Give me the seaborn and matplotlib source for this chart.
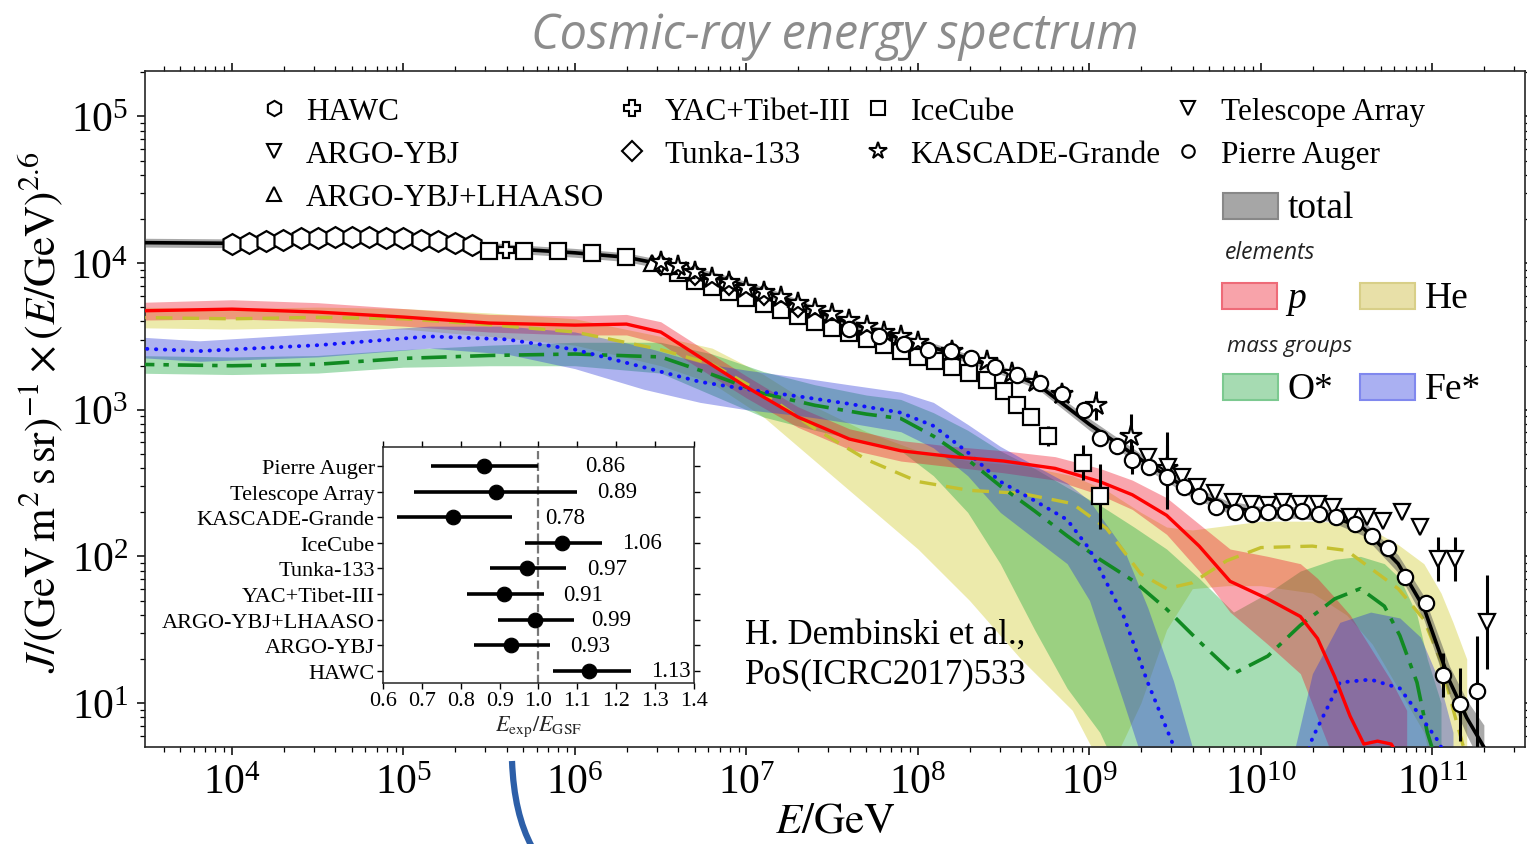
import numpy as np
import matplotlib
matplotlib.use("Agg")
import matplotlib.pyplot as plt
import seaborn as sns
from matplotlib.lines import Line2D
from matplotlib.patches import Rectangle, PathPatch
from matplotlib.path import Path
from matplotlib.ticker import FixedLocator, NullFormatter

# ---------------- data (log10 E/GeV, log10 flux) ----------------
# total (GSF) model
TOT_E = [3.4, 4.0, 4.4, 4.7, 5.0, 5.3, 5.6, 6.0, 6.3, 6.6, 6.9, 7.2, 7.5, 7.8, 8.1, 8.4, 8.7,
         9.0, 9.3, 9.6, 9.8, 10.0, 10.2, 10.4, 10.6, 10.8, 10.95, 11.1, 11.2, 11.3]
TOT_J = [4.14, 4.135, 4.16, 4.17, 4.17, 4.14, 4.10, 4.07, 4.04, 3.97, 3.88, 3.77, 3.63, 3.52, 3.42,
         3.31, 3.17, 2.90, 2.66, 2.44, 2.34, 2.30, 2.30, 2.28, 2.19, 1.95, 1.65, 1.15, 0.90, 0.70]
TOT_HI = [4.17, 4.165, 4.19, 4.20, 4.20, 4.17, 4.13, 4.10, 4.07, 4.00, 3.91, 3.80, 3.66, 3.55, 3.45,
          3.34, 3.20, 2.94, 2.70, 2.48, 2.38, 2.34, 2.34, 2.32, 2.24, 2.01, 1.73, 1.25, 1.02, 0.85]
TOT_LO = [4.11, 4.105, 4.13, 4.14, 4.14, 4.11, 4.07, 4.04, 4.01, 3.94, 3.85, 3.74, 3.60, 3.49, 3.39,
          3.28, 3.14, 2.86, 2.62, 2.40, 2.30, 2.26, 2.26, 2.24, 2.14, 1.89, 1.57, 1.05, 0.78, 0.55]

# proton
P_E = [3.4, 4.0, 4.5, 5.0, 5.5, 6.0, 6.3, 6.5, 6.7, 7.0, 7.3, 7.6, 7.9, 8.2, 8.5, 8.8, 9.06, 9.25,
       9.45, 9.64, 9.82, 10.04, 10.23, 10.33, 10.43, 10.52, 10.6, 10.68, 10.76, 10.85]
P_J = [3.673, 3.686, 3.666, 3.632, 3.591, 3.577, 3.584, 3.53, 3.38, 3.155, 2.95, 2.80, 2.72, 2.68,
       2.65, 2.60, 2.51, 2.42, 2.28, 2.07, 1.83, 1.71, 1.59, 1.44, 1.18, 0.91, 0.72, 0.74, 0.72, 0.55]
P_HI = [3.73, 3.75, 3.73, 3.69, 3.65, 3.64, 3.65, 3.60, 3.45, 3.23, 3.02, 2.87, 2.79, 2.75, 2.72,
        2.68, 2.60, 2.52, 2.40, 2.22, 2.05, 2.00, 1.95, 1.85, 1.72, 1.60, 1.45, 1.30, 1.15, 0.95]
P_LO = [3.61, 3.62, 3.60, 3.57, 3.53, 3.51, 3.51, 3.45, 3.30, 3.08, 2.88, 2.73, 2.65, 2.61, 2.57,
        2.52, 2.42, 2.32, 2.15, 1.90, 1.62, 1.40, 1.20, 0.90, 0.60, 0.40, 0.30, 0.30, 0.30, 0.30]

# helium
HE_E = [3.4, 4.0, 4.5, 5.0, 5.5, 6.0, 6.5, 6.8, 7.1, 7.4, 7.7, 8.0, 8.3, 8.6, 8.9, 9.1, 9.3, 9.45,
        9.6, 9.8, 10.0, 10.3, 10.5, 10.65, 10.8, 10.95, 11.05, 11.12, 11.2]
HE_J = [3.63, 3.62, 3.63, 3.62, 3.58, 3.53, 3.41, 3.31, 3.11, 2.87, 2.66, 2.51, 2.45, 2.43, 2.36,
        2.19, 1.88, 1.78, 1.82, 1.97, 2.06, 2.07, 2.04, 1.91, 1.78, 1.57, 1.28, 0.96, 0.62]
HE_HI = [3.70, 3.69, 3.70, 3.69, 3.66, 3.62, 3.50, 3.42, 3.24, 3.02, 2.85, 2.72, 2.65, 2.62, 2.55,
         2.45, 2.30, 2.20, 2.18, 2.21, 2.24, 2.24, 2.23, 2.18, 2.08, 1.95, 1.75, 1.55, 1.30]
HE_LO = [3.56, 3.55, 3.56, 3.55, 3.50, 3.44, 3.30, 3.18, 2.95, 2.65, 2.35, 2.05, 1.70, 1.30, 0.95,
         0.50, 1.00, 1.50, 1.78, 1.80, 1.80, 1.75, 1.60, 1.40, 1.10, 0.80, 0.30, 0.30, 0.30]

# O* mass group
O_E = [3.4, 4.0, 4.5, 5.0, 5.5, 6.0, 6.5, 6.8, 7.1, 7.4, 7.7, 7.9, 8.09, 8.29, 8.48, 8.68, 8.87,
       9.06, 9.26, 9.45, 9.64, 9.84, 10.04, 10.23, 10.43, 10.58, 10.72, 10.81, 10.91, 10.97, 11.05]
O_J = [3.31, 3.30, 3.31, 3.35, 3.37, 3.38, 3.36, 3.24, 3.11, 3.03, 2.97, 2.94, 2.82, 2.66, 2.48,
       2.31, 2.14, 1.98, 1.83, 1.64, 1.42, 1.20, 1.32, 1.53, 1.71, 1.78, 1.66, 1.46, 1.14, 0.80, 0.50]
O_HI = [3.37, 3.36, 3.37, 3.41, 3.44, 3.46, 3.46, 3.38, 3.26, 3.17, 3.10, 3.07, 2.98, 2.86, 2.72,
        2.60, 2.47, 2.35, 2.20, 2.05, 1.85, 1.62, 1.75, 1.90, 1.98, 2.00, 1.95, 1.85, 1.60, 1.30, 1.00]
O_LO = [3.25, 3.24, 3.25, 3.29, 3.30, 3.30, 3.25, 3.10, 2.95, 2.86, 2.78, 2.72, 2.55, 2.30, 1.95,
        1.50, 1.10, 0.80, 0.30, 0.30, 0.30, 0.30, 0.30, 0.30, 0.30, 0.30, 0.30, 0.30, 0.30, 0.30, 0.30]

# Fe* mass group (two lobes)
FE_E = [3.4, 3.81, 4.5, 5.15, 5.6, 6.0, 6.4, 6.73, 7.0, 7.31, 7.6, 7.9, 8.09, 8.29, 8.48, 8.68,
        8.87, 9.0, 9.2, 9.34, 9.49, 9.6]
FE_J = [3.42, 3.40, 3.44, 3.50, 3.48, 3.41, 3.29, 3.19, 3.14, 3.09, 3.04, 2.98, 2.89, 2.71, 2.51,
        2.38, 2.25, 2.05, 1.59, 1.14, 0.71, 0.40]
FE_HI = [3.50, 3.47, 3.52, 3.57, 3.57, 3.53, 3.43, 3.32, 3.27, 3.22, 3.17, 3.12, 3.05, 2.90, 2.75,
         2.62, 2.50, 2.38, 2.05, 1.65, 1.15, 0.70]
FE_LO = [3.36, 3.33, 3.36, 3.42, 3.38, 3.28, 3.14, 3.05, 3.00, 2.96, 2.91, 2.85, 2.74, 2.55, 2.30,
         2.12, 1.95, 1.70, 1.00, 0.50, 0.30, 0.30]
FE2_E = [10.2, 10.3, 10.46, 10.64, 10.81, 10.93, 11.04, 11.12]
FE2_J = [0.40, 0.76, 1.14, 1.16, 1.10, 0.91, 0.73, 0.50]
FE2_HI = [0.70, 1.20, 1.55, 1.62, 1.58, 1.45, 1.15, 0.80]
FE2_LO = [0.30, 0.30, 0.30, 0.30, 0.30, 0.30, 0.30, 0.30]

# experiments
HAWC_E = [4.0, 4.1, 4.2, 4.3, 4.4, 4.5, 4.6, 4.7, 4.8, 4.9, 5.0, 5.1, 5.2, 5.3, 5.4]
HAWC_J = [4.13, 4.14, 4.15, 4.16, 4.17, 4.17, 4.18, 4.18, 4.18, 4.17, 4.17, 4.16, 4.15, 4.14, 4.12]
HAWC_ERR = [0.07, 0.06, 0.05, 0.05, 0.03, 0.03, 0.03, 0.03, 0.03, 0.03, 0.03, 0.03, 0.03, 0.03, 0.03]

ARGO_E = [5.5, 5.7]
ARGO_J = [4.08, 4.08]
LHAASO_E = [6.45, 6.55, 6.65]
LHAASO_J = [4.00, 3.98, 3.95]
YAC_E = [5.6]
YAC_J = [4.09]
TUNKA_E = [6.5, 6.7, 6.9, 7.1, 7.3]
TUNKA_J = [3.99, 3.92, 3.85, 3.78, 3.70]

ICE_E = [5.5, 5.7, 5.9, 6.1, 6.3, 6.6, 6.7, 6.8, 6.9, 7.0, 7.1, 7.2, 7.3, 7.4, 7.5, 7.6, 7.7,
         7.8, 7.9, 8.0, 8.1, 8.2, 8.3, 8.4, 8.5, 8.58, 8.66, 8.76, 8.96, 9.06]
ICE_J = [4.08, 4.08, 4.08, 4.07, 4.04, 3.93, 3.88, 3.84, 3.80, 3.76, 3.72, 3.68, 3.64, 3.60, 3.56,
         3.52, 3.48, 3.44, 3.40, 3.36, 3.33, 3.29, 3.25, 3.20, 3.13, 3.03, 2.95, 2.82, 2.64, 2.41]
ICE_ERR = [0] * 25 + [0.04, 0.05, 0.07, 0.12, 0.22]

KG_E = [6.5, 6.6, 6.7, 6.8, 6.9, 7.0, 7.1, 7.2, 7.3, 7.4, 7.5, 7.6, 7.7, 7.8, 7.9, 8.0, 8.2, 8.4,
        8.55, 8.69, 8.84, 9.04, 9.24, 9.45]
KG_J = [4.01, 3.98, 3.94, 3.90, 3.87, 3.83, 3.80, 3.77, 3.73, 3.69, 3.65, 3.61, 3.57, 3.53, 3.50,
        3.46, 3.40, 3.33, 3.25, 3.19, 3.11, 3.03, 2.82, 2.60]
KG_ERR = [0] * 20 + [0.04, 0.10, 0.15, 0.25]

PA_E = [7.60, 7.77, 7.92, 8.06, 8.19, 8.31, 8.45, 8.58, 8.71, 8.84, 8.97, 9.06, 9.16, 9.25, 9.35,
        9.45, 9.55, 9.64, 9.74, 9.85, 9.95, 10.04, 10.14, 10.24, 10.34, 10.44, 10.55, 10.65, 10.74,
        10.84, 10.96, 11.06, 11.16, 11.26]
PA_J = [3.55, 3.50, 3.45, 3.41, 3.40, 3.35, 3.29, 3.24, 3.18, 3.11, 3.00, 2.81, 2.75, 2.66, 2.61,
        2.54, 2.47, 2.41, 2.34, 2.30, 2.29, 2.30, 2.30, 2.31, 2.29, 2.27, 2.22, 2.14, 2.06, 1.86,
        1.68, 1.19, 0.99, 1.08]
PA_ERR = [0] * 13 + [0.10, 0, 0.22] + [0] * 15 + [0.15, 0.25, 0.38]

TA_E = [9.34, 9.46, 9.54, 9.63, 9.73, 9.84, 9.94, 10.04, 10.13, 10.23, 10.33, 10.42, 10.52, 10.62,
        10.71, 10.82, 10.93, 11.03, 11.13, 11.32]
TA_J = [2.68, 2.61, 2.54, 2.47, 2.43, 2.37, 2.36, 2.35, 2.37, 2.36, 2.36, 2.34, 2.27, 2.27, 2.24,
        2.30, 2.20, 1.98, 1.98, 1.55]
TA_ERR = [0] * 17 + [0.15, 0.15, 0.32]

# inset: energy-scale factors
EXPS = ["Pierre Auger", "Telescope Array", "KASCADE-Grande", "IceCube", "Tunka-133",
        "YAC+Tibet-III", "ARGO-YBJ+LHAASO", "ARGO-YBJ", "HAWC"]
RATIO = [0.86, 0.89, 0.78, 1.06, 0.97, 0.91, 0.99, 0.93, 1.13]
RATIO_LO = [0.724, 0.681, 0.636, 0.966, 0.876, 0.816, 0.895, 0.833, 1.037]
RATIO_HI = [0.999, 1.099, 0.933, 1.163, 1.072, 1.013, 1.091, 1.029, 1.237]
LABEL_X = [1.12, 1.15, 1.017, 1.215, 1.125, 1.063, 1.136, 1.081, 1.29]

# ---------------- style ----------------
sns.set_theme(style="ticks")
plt.rcParams['font.family'] = ['Liberation Serif', 'DejaVu Serif']
plt.rcParams['mathtext.fontset'] = 'stix'
plt.rcParams['axes.linewidth'] = 1.2
plt.rcParams['text.color'] = 'black'
plt.rcParams['xtick.color'] = 'black'
plt.rcParams['ytick.color'] = 'black'
SANS = ['Open Sans', 'DejaVu Sans']


def p10(v):
    return 10 ** np.asarray(v, dtype=float)


def band(ax, E, lo, hi, color, alpha, z=1):
    ax.fill_between(p10(E), p10(lo), p10(hi), color=color, alpha=alpha, lw=0, zorder=z)


def points(ax, E, J, marker, ms, err=None):
    E, J = p10(E), np.asarray(J, dtype=float)
    if err is None:
        yerr = None
    else:
        e = np.asarray(err, dtype=float)
        yerr = [10 ** J - 10 ** (J - e), 10 ** (J + e) - 10 ** J]
    ax.errorbar(E, 10 ** J, yerr=yerr, fmt=marker, ms=ms, mfc='white', mec='black', mew=1.6,
                ecolor='black', elinewidth=2.2, capsize=0, ls='none', zorder=6)


fig = plt.figure(figsize=(15.27, 8.45), dpi=100)
ax = fig.add_axes([0.0950, 0.1148, 0.9037, 0.8000])
ax.set_xscale('log')
ax.set_yscale('log')
ax.set_xlim(10 ** 3.493, 10 ** 11.54)
ax.set_ylim(10 ** 0.70, 10 ** 5.31)

# element / mass-group bands
band(ax, HE_E, HE_LO, HE_HI, '#c8c000', 0.33)
band(ax, O_E, O_LO, O_HI, '#22aa44', 0.40)
band(ax, P_E, P_LO, P_HI, '#f01428', 0.38)
band(ax, FE_E, FE_LO, FE_HI, '#2a37d9', 0.38)
band(ax, FE2_E, FE2_LO, FE2_HI, '#2a37d9', 0.38)

sns.lineplot(x=p10(HE_E), y=p10(HE_J), ax=ax, color='#c4c030', lw=2.4, ls=(0, (5, 3)),
             sort=False, estimator=None, zorder=3)
sns.lineplot(x=p10(O_E), y=p10(O_J), ax=ax, color='#118a22', lw=2.6, ls=(0, (7, 2.5, 1.5, 2.5)),
             sort=False, estimator=None, zorder=3)
sns.lineplot(x=p10(FE_E), y=p10(FE_J), ax=ax, color='#1010ff', lw=2.8, ls=(0, (0.1, 2.2)),
             dash_capstyle='round', sort=False, estimator=None, zorder=3)
sns.lineplot(x=p10(FE2_E), y=p10(FE2_J), ax=ax, color='#1010ff', lw=2.8, ls=(0, (0.1, 2.2)),
             dash_capstyle='round', sort=False, estimator=None, zorder=3)
sns.lineplot(x=p10(P_E), y=p10(P_J), ax=ax, color='#ff0000', lw=2.4, sort=False,
             estimator=None, zorder=3)

# total
band(ax, TOT_E, TOT_LO, TOT_HI, '#555555', 0.5, z=4)
sns.lineplot(x=p10(TOT_E), y=p10(TOT_J), ax=ax, color='black', lw=2.6, sort=False,
             estimator=None, zorder=5)

# measurements
points(ax, HAWC_E, HAWC_J, 'h', 15, HAWC_ERR)
points(ax, ARGO_E, ARGO_J, 'v', 8)
points(ax, YAC_E, YAC_J, 'P', 12)
points(ax, ICE_E, ICE_J, 's', 11, ICE_ERR)
points(ax, TUNKA_E, TUNKA_J, 'D', 10)
points(ax, LHAASO_E, LHAASO_J, '^', 11)
points(ax, KG_E, KG_J, '*', 16, KG_ERR)
points(ax, TA_E, TA_J, 'v', 11, TA_ERR)
points(ax, PA_E, PA_J, 'o', 11, PA_ERR)

ax.xaxis.set_major_locator(FixedLocator([10.0 ** k for k in range(4, 12)]))
ax.yaxis.set_major_locator(FixedLocator([10.0 ** k for k in range(1, 6)]))
ax.xaxis.set_minor_formatter(NullFormatter())
ax.yaxis.set_minor_formatter(NullFormatter())
ax.tick_params(which='both', direction='out', top=True, right=True, labelsize=30, pad=6)
ax.tick_params(which='major', length=6, width=1.1)
ax.tick_params(which='minor', length=3.5, width=0.9)

# experiment legend
names = ["HAWC", "ARGO-YBJ", "ARGO-YBJ+LHAASO", "YAC+Tibet-III", "Tunka-133",
         "IceCube", "KASCADE-Grande", "Telescope Array", "Pierre Auger"]
marks = ['h', 'v', '^', 'P', 'D', 's', '*', 'v', 'o']
sizes = [11, 10, 10, 11, 10, 10, 13, 10, 9]
handles = [Line2D([], [], marker=m, ls='none', ms=s, mfc='white', mec='black', mew=1.5)
           for m, s in zip(marks, sizes)]
ax.legend(handles, names, ncol=4, loc='upper left', bbox_to_anchor=(0.0820, 0.9615),
          frameon=False, fontsize=22.5, borderpad=0, borderaxespad=0, handlelength=1.0,
          handletextpad=0.53, columnspacing=0.39, labelspacing=0.45)


# band legend (drawn by hand)
def swatch(x0, y0, face, edge, label, italic=False):
    ax.add_patch(Rectangle((x0, y0), 0.040, 0.039, transform=ax.transAxes, facecolor=face,
                           edgecolor=edge, lw=1.5, zorder=7))
    ax.text(x0 + 0.047, y0 + 0.017, label, transform=ax.transAxes, fontsize=27, ha='left',
            va='center', style='italic' if italic else 'normal')


swatch(0.7812, 0.7811, '#a6a6a6', '#888888', 'total')
ax.text(0.7826, 0.7322, 'elements', transform=ax.transAxes, fontsize=16.5, style='italic',
        family=SANS, color='#222222', va='center')
swatch(0.7804, 0.6479, '#f8a3aa', '#ee6b78', 'p', italic=True)
swatch(0.8804, 0.6479, '#e8e0a8', '#d8cf88', 'He')
ax.text(0.7841, 0.5932, 'mass groups', transform=ax.transAxes, fontsize=16, style='italic',
        family=SANS, color='#222222', va='center')
swatch(0.7812, 0.5133, '#a6dbb2', '#7cc990', 'O*')
swatch(0.8804, 0.5133, '#aab0f2', '#8088ee', 'Fe*')

ax.text(0.4348, 0.167, 'H. Dembinski et al.,', transform=ax.transAxes, fontsize=25,
        ha='left', va='center')
ax.text(0.4348, 0.108, 'PoS(ICRC2017)533', transform=ax.transAxes, fontsize=25,
        ha='left', va='center')

# axis labels and title
fig.text(0.547, 0.027, r'$E/\mathrm{GeV}$', fontsize=31, ha='center', va='center')
fig.text(0.027, 0.512, r'$J/(\mathrm{GeV\,m^2\,s\,sr})^{-1}\times(E/\mathrm{GeV})^{2.6}$',
         fontsize=31, ha='center', va='center', rotation=90)
fig.text(0.547, 0.957, 'Cosmic-ray energy spectrum', fontsize=35, style='italic',
         family=SANS, color='#8c8c8c', ha='center', va='center')

# inset with energy-scale factors
ins = fig.add_axes([0.2508, 0.1905, 0.2037, 0.2793])
pos = np.arange(len(EXPS))[::-1]
ins.hlines(pos, RATIO_LO, RATIO_HI, color='black', lw=2.6, zorder=2)
sns.scatterplot(x=RATIO, y=pos, ax=ins, color='black', s=110, edgecolor='black', zorder=3,
                legend=False)
ins.axvline(1.0, color='#777777', ls='--', lw=1.6, zorder=1)
for y, r, lx in zip(pos, RATIO, LABEL_X):
    ins.text(lx, y, f'{r:.2f}', fontsize=16.5, va='center', ha='left')
ins.set_xlim(0.6, 1.4)
ins.set_ylim(-0.47, 8.74)
ins.set_xticks(np.arange(0.6, 1.41, 0.1))
ins.set_xticklabels([f'{t:.1f}' for t in np.arange(0.6, 1.41, 0.1)])
ins.set_yticks(pos)
ins.set_yticklabels(EXPS)
ins.tick_params(which='both', direction='out', top=True, right=True, labelsize=16, pad=2,
                length=4, width=1)
ins.set_xlabel(r'$E_\mathrm{exp}/E_\mathrm{GSF}$', fontsize=16, labelpad=2)
for s in ins.spines.values():
    s.set_linewidth(1.1)

# stray blue arc from the slide
arc = Path([(512 / 1527, 1 - 762 / 845), (514 / 1527, 1 - 815 / 845), (532 / 1527, 1 - 848 / 845)],
           [Path.MOVETO, Path.CURVE3, Path.CURVE3])
fig.add_artist(PathPatch(arc, fill=False, ec='#2d5fa8', lw=4.5, transform=fig.transFigure,
                         clip_on=False))

fig.savefig('out.png', dpi=100)
